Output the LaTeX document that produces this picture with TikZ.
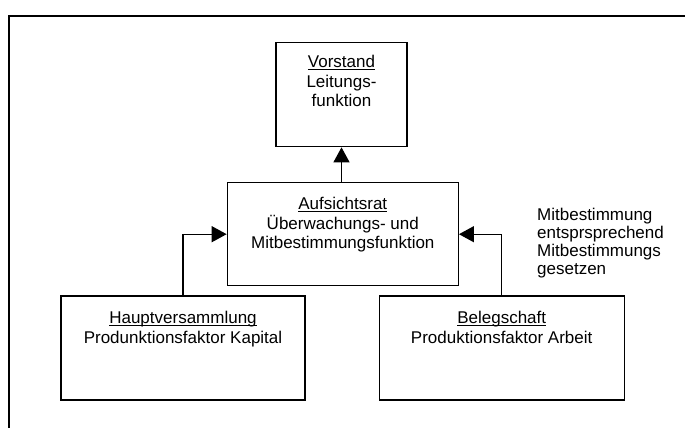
\documentclass[tikz,border=0pt]{standalone}
\usepackage{fontspec}
\setmainfont{Liberation Sans}
\usetikzlibrary{arrows.meta}
\newcommand\myul[1]{\setbox0\hbox{#1}\rlap{\rule[-2.4pt]{\wd0}{1pt}}\box0}
\tikzset{
  box/.style={draw, line width=1.3pt, rectangle, inner sep=0pt},
  txt/.style={inner sep=0pt, anchor=north, align=center, font=\fontsize{17pt}{19.5pt}\selectfont},
  sidetxt/.style={inner sep=0pt, anchor=north west, align=left, font=\fontsize{17pt}{18pt}\selectfont},
  conn/.style={line width=1.3pt, -{Triangle[length=15pt,width=16pt]}},
  frame/.style={line width=2pt}
}
\begin{document}
\begin{tikzpicture}[x=1pt,y=-1pt]
\useasboundingbox (0,0) rectangle (685,428);
% frame (top and left edges visible)
\coordinate (ftl) at (9,16);
\coordinate (ftr) at (690,16);
\coordinate (fbl) at (9,432);
\draw[frame] (ftr) -- (ftl) -- (fbl);
% boxes
\node[box, minimum width=131pt, minimum height=104pt] (vor) at (341.5,94.7) {};
\node[box, minimum width=231pt, minimum height=103pt] (ar) at (342.8,234.2) {};
\node[box, minimum width=244pt, minimum height=104pt] (hv) at (183,348) {};
\node[box, minimum width=245pt, minimum height=104pt] (bel) at (501.7,348) {};
% texts
\node[txt] (vort) at (341.5,55) {\myul{Vorstand}\\Leitungs-\\funktion};
\node[txt] (art) at (342.8,197) {\myul{Aufsichtsrat}\\Überwachungs- und\\Mitbestimmungsfunktion};
\node[txt] (hvt) at (183,311) {\myul{Hauptversammlung}\\Produnktionsfaktor Kapital};
\node[txt] (belt) at (501.7,311) {\myul{Belegschaft}\\Produktionsfaktor Arbeit};
\node[sidetxt] (side) at (537,207.7) {Mitbestimmung\\entsprsprechend\\Mitbestimmungs\\gesetzen};
% connectors
\draw[conn] (ar.north -| vor.south) -- (vor.south);
\draw[conn] (hv.north) |- (ar.west);
\draw[conn] (bel.north) |- (ar.east);
\end{tikzpicture}
\end{document}
